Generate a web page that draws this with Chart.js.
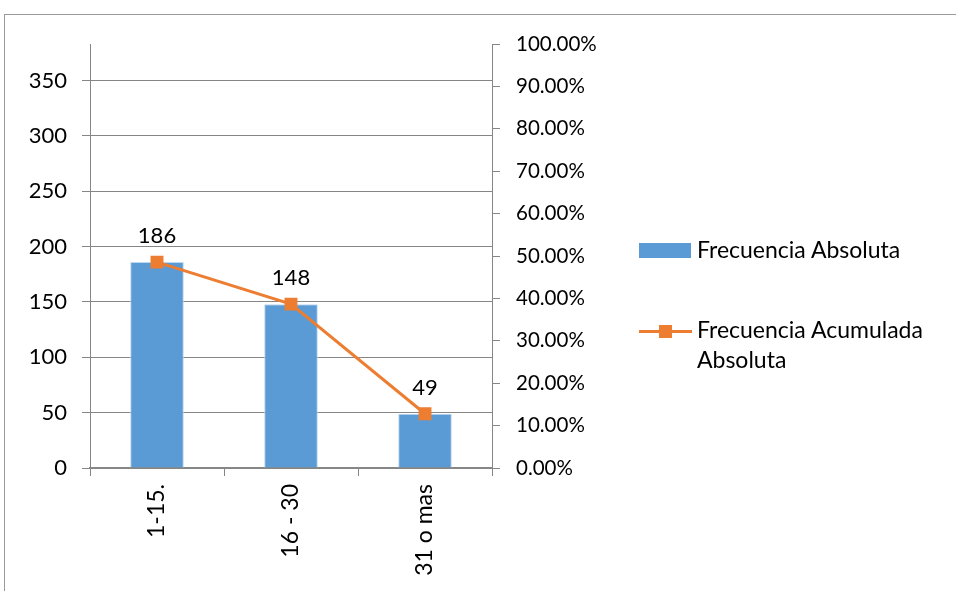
<!DOCTYPE html>
<html>
<head>
<meta charset="utf-8">
<script src="https://cdn.jsdelivr.net/npm/chart.js@4/dist/chart.umd.min.js"></script>
<style>
  html,body{margin:0;padding:0;background:#fff;}
  #wrap{position:relative;width:956px;height:591px;overflow:hidden;}
  canvas{position:absolute;left:0;top:0;}
  .frame{position:absolute;left:4px;top:14px;width:960px;height:600px;border-left:1px solid #9a9a9a;border-top:1px solid #9a9a9a;}
  .leg{position:absolute;font-family:Lato, "Open Sans", sans-serif;font-size:23px;color:#000;line-height:30px;white-space:nowrap;}
  .sw{position:absolute;}
</style>
</head>
<body>
<div id="wrap">
  <div class="frame"></div>
  <canvas id="c" width="956" height="591"></canvas>
  <div class="sw" style="left:639px;top:243px;width:52px;height:15px;background:#5B9BD5;"></div>
  <div class="leg" style="left:697px;top:234px;">Frecuencia Absoluta</div>
  <div class="sw" style="left:639px;top:330px;width:53px;height:3px;background:#ED7D31;"></div>
  <div class="sw" style="left:659px;top:325px;width:13px;height:13px;background:#ED7D31;"></div>
  <div class="leg" style="left:697px;top:314px;">Frecuencia Acumulada</div>
  <div class="leg" style="left:697px;top:344px;">Absoluta</div>
</div>
<script>
const categories = ['1-15.', '16 - 30', '31 o mas'];
const frecuenciaAbsoluta = [186, 148, 49];
const frecuenciaAcumulada = [48.56, 38.64, 12.79];
const leftTicks = [0, 50, 100, 150, 200, 250, 300, 350];
const leftMax = 383;
const rightTicks = [0, 10, 20, 30, 40, 50, 60, 70, 80, 90, 100];

const FONT = 'Lato, "Open Sans", sans-serif';
const GRAY = '#868686';

const barLabels = {
  id: 'barLabels',
  afterDatasetsDraw(chart) {
    const ctx = chart.ctx;
    const meta = chart.getDatasetMeta(1);
    ctx.save();
    ctx.font = '22px ' + FONT;
    ctx.fillStyle = '#000';
    ctx.textAlign = 'center';
    ctx.textBaseline = 'alphabetic';
    meta.data.forEach((el, i) => {
      ctx.fillText(String(frecuenciaAbsoluta[i]), el.x, el.y - 19);
    });
    ctx.restore();
  }
};

new Chart(document.getElementById('c'), {
  data: {
    labels: categories,
    datasets: [
      {
        type: 'line',
        label: 'Frecuencia Acumulada Absoluta',
        data: frecuenciaAcumulada,
        yAxisID: 'y1',
        borderColor: '#ED7D31',
        backgroundColor: '#ED7D31',
        borderWidth: 3,
        pointStyle: 'rect',
        pointRadius: 7,
        pointHoverRadius: 7,
        tension: 0,
        order: 0
      },
      {
        type: 'bar',
        label: 'Frecuencia Absoluta',
        data: frecuenciaAbsoluta,
        yAxisID: 'y',
        backgroundColor: '#5B9BD5',
        borderColor: '#BDD7EE',
        borderWidth: {left:1,right:1,top:1,bottom:0},
        barPercentage: 0.8,
        categoryPercentage: 0.5,
        order: 1
      }
    ]
  },
  options: {
    responsive: false,
    animation: false,
    layout: { padding: { left: 0, top: 44, right: 0, bottom: 0 } },
    plugins: { legend: { display: false }, tooltip: { enabled: false } },
    scales: {
      x: {
        type: 'category',
        offset: true,
        afterFit(s) { s.height = 123; },
        grid: { offset: true, drawOnChartArea: false, tickLength: 8, color: GRAY, lineWidth: 1 },
        border: { color: GRAY, width: 2 },
        ticks: { minRotation: 90, maxRotation: 90, padding: 8, color: '#000', font: { family: FONT, size: 23 } }
      },
      y: {
        position: 'left',
        min: 0,
        max: leftMax,
        afterFit(s) { s.width = 90; },
        afterBuildTicks(s) { s.ticks = leftTicks.map(v => ({ value: v })); },
        grid: { color: GRAY, lineWidth: 1, tickLength: 8 },
        border: { color: GRAY, width: 1 },
        ticks: { padding: 15, color: '#000', font: { family: FONT, size: 22 } }
      },
      y1: {
        position: 'right',
        min: 0,
        max: 100,
        afterFit(s) { s.width = 464; },
        afterBuildTicks(s) { s.ticks = rightTicks.map(v => ({ value: v })); },
        grid: { drawOnChartArea: false, color: GRAY, tickLength: 8 },
        border: { color: GRAY, width: 1 },
        ticks: { padding: 16, color: '#000', font: { family: FONT, size: 20.5 }, callback: v => v.toFixed(2) + '%' }
      }
    }
  },
  plugins: [barLabels]
});
</script>
</body>
</html>
